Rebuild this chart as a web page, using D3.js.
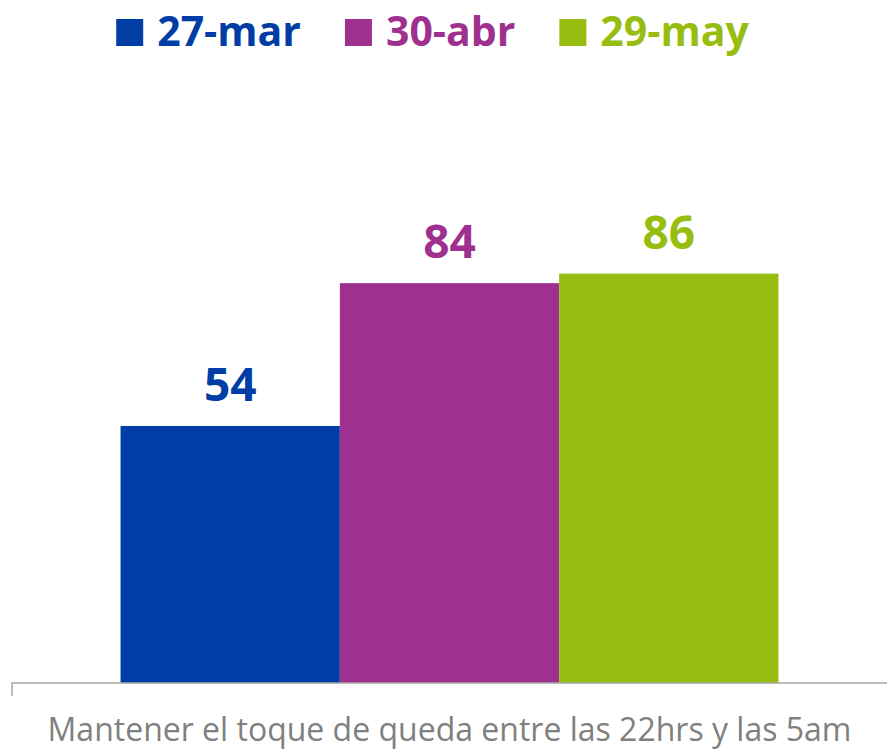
<!DOCTYPE html>
<html>
<head>
<meta charset="utf-8">
<script src="https://cdn.jsdelivr.net/npm/d3@7"></script>
<style>
  body { margin: 0; background: #fff; }
  svg { display: block; }
</style>
</head>
<body>
<script>
var categories = ['Mantener el toque de queda entre las 22hrs y las 5am'];
var series = ['27-mar', '30-abr', '29-may'];
var values = [54, 84, 86];
var colors = ['#003DA5', '#A0308F', '#96BD10'];

var width = 887, height = 749;

var svg = d3.select('body')
	.append('svg')
	.attr('width', width)
	.attr('height', height)
	.style('font-family', '"Open Sans", sans-serif');

var x0 = d3.scaleBand()
	.domain(categories)
	.range([12, 887])
	.paddingInner(0)
	.paddingOuter(0.165);

var x1 = d3.scaleBand()
	.domain(series)
	.range([0, x0.bandwidth()]);

var y = d3.scaleLinear()
	.domain([0, 100])
	.range([683, 207]);

var color = d3.scaleOrdinal().domain(series).range(colors);

var rows = series.map(function(s, i){ return {name: s, value: values[i]}; });

var group = svg.append('g')
	.attr('transform', 'translate(' + x0(categories[0]) + ',0)');

group.selectAll('rect')
	.data(rows)
	.enter()
	.append('rect')
	.attr('x', function(d){ return x1(d.name); })
	.attr('y', function(d){ return y(d.value); })
	.attr('width', x1.bandwidth())
	.attr('height', function(d){ return y(0) - y(d.value); })
	.attr('fill', function(d){ return color(d.name); });

group.selectAll('text.val')
	.data(rows)
	.enter()
	.append('text')
	.attr('class', 'val')
	.attr('x', function(d){ return x1(d.name) + x1.bandwidth() / 2; })
	.attr('y', function(d){ return y(d.value) - 25; })
	.attr('text-anchor', 'middle')
	.style('font-size', '46px')
	.style('font-weight', 'bold')
	.attr('fill', function(d){ return color(d.name); })
	.text(function(d){ return d.value; });

// x axis
var xAxis = d3.axisBottom(x0).tickSize(0).tickFormat('');
var axisG = svg.append('g')
	.attr('transform', 'translate(0,' + y(0) + ')')
	.call(xAxis);
axisG.select('.domain')
	.attr('stroke', '#a6a6a6')
	.attr('stroke-width', 1.5)
	.attr('d', 'M12,13V0H887');

svg.append('text')
	.attr('x', x0(categories[0]) + x0.bandwidth() / 2)
	.attr('y', 741)
	.attr('text-anchor', 'middle')
	.attr('fill', '#808080')
	.style('font-size', '32px')
	.text(categories[0]);

// legend
var legend = svg.append('g');
var items = legend.selectAll('g')
	.data(series)
	.enter()
	.append('g');

items.append('rect')
	.attr('y', 19)
	.attr('width', 27)
	.attr('height', 27)
	.attr('fill', function(d){ return color(d); });

items.append('text')
	.attr('x', 41)
	.attr('y', 46)
	.style('font-size', '41px')
	.style('font-weight', 'bold')
	.attr('fill', function(d){ return color(d); })
	.text(function(d){ return d; });

var offset = 0, total;
items.each(function(){
	var w = 41 + this.querySelector('text').getComputedTextLength();
	d3.select(this).attr('transform', 'translate(' + offset + ',0)');
	offset += w + 44;
});
total = offset - 44;
legend.attr('transform', 'translate(' + (432.5 - total / 2) + ',0)');
</script>
</body>
</html>
